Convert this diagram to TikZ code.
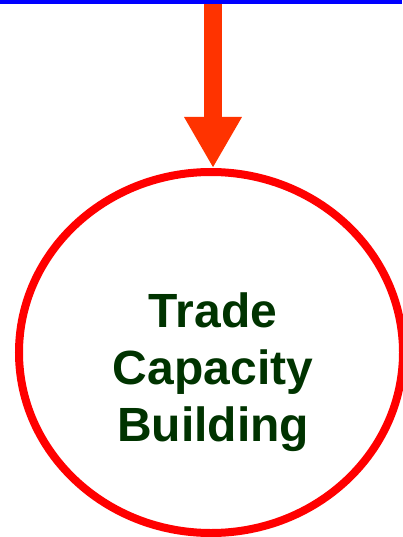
\documentclass[tikz,border=0pt]{standalone}
\usepackage{fontspec}
\setmainfont{Liberation Sans}
\usetikzlibrary{shapes.geometric,arrows.meta}
\definecolor{tcbred}{HTML}{FF0000}
\definecolor{tcborange}{HTML}{FF3300}
\definecolor{tcbgreen}{HTML}{003300}
\begin{document}
\begin{tikzpicture}[x=1pt,y=1pt,
    ring/.style={draw=tcbred,line width=8pt,ellipse,minimum width=384pt,minimum height=361pt,inner sep=0pt},
    tcbtext/.style={text=tcbgreen,font=\fontsize{48}{57}\selectfont\bfseries,align=center},
    flow/.style={draw=tcborange,fill=tcborange,line width=18pt,-{Triangle[width=54pt,length=51pt]}}]
    \useasboundingbox (0,0) rectangle (402,-537);
    \draw[blue,line width=4pt] (0,-2)--(402,-2);
    \coordinate (src) at (213,-4);
    \node[ring] (tcb) at (211,-352.5) {};
    \node[tcbtext] (name) at (213,-372) {Trade\\Capacity\\Building};
    \draw[flow] (src)--(src |- tcb.north);
\end{tikzpicture}
\end{document}
